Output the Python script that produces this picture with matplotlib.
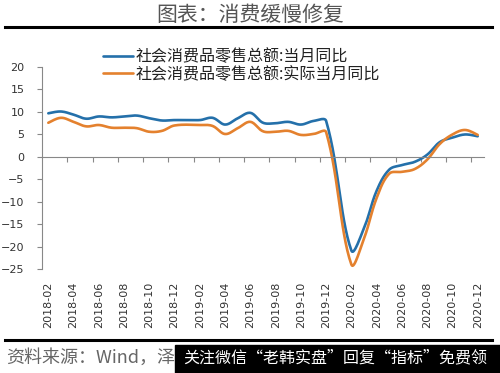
import matplotlib

matplotlib.use("Agg")
import matplotlib.pyplot as plt
import numpy as np
import pandas as pd
from matplotlib.lines import Line2D
from matplotlib.patches import Rectangle
from matplotlib.transforms import Bbox, TransformedBbox

plt.rcParams["font.family"] = ["Noto Sans CJK SC", "DejaVu Sans"]

months = pd.date_range("2018-02-01", "2020-12-01", freq="MS").strftime("%Y-%m").tolist()
nan = np.nan
# 社会消费品零售总额: 当月同比 (%), 1 月无单月数据
nominal = [9.7, 10.1, 9.4, 8.5, 9.0, 8.8, 9.0, 9.2, 8.6, 8.1, 8.2, nan,
           8.2, 8.7, 7.2, 8.6, 9.8, 7.6, 7.5, 7.8, 7.2, 8.0, 8.0, nan,
           -20.8, -15.8, -7.5, -2.8, -1.8, -1.1, 0.5, 3.3, 4.3, 5.0, 4.6]
# 社会消费品零售总额: 实际当月同比 (%)
real = [7.6, 8.7, 7.8, 6.8, 7.1, 6.5, 6.5, 6.4, 5.6, 5.8, 7.0, nan,
        7.1, 6.9, 5.1, 6.4, 7.8, 5.7, 5.6, 5.8, 4.9, 5.1, 5.5, nan,
        -23.9, -18.1, -9.1, -3.7, -3.3, -2.7, -0.6, 2.9, 5.0, 6.0, 4.9]
labels = ["社会消费品零售总额:当月同比", "社会消费品零售总额:实际当月同比"]
yticks = [20, 15, 10, 5, 0, -5, -10, -15, -20, -25]

XS, YS = 12.65, 4.5  # 大致的像素比例, 用于平滑时的距离


def smooth(y, n=16, k=0.36):
    """Excel 风格的平滑折线, 切线按相邻段长度分配; 缺失月份直接连线。"""
    y = np.asarray(y, dtype=float)
    x = np.arange(len(y), dtype=float)
    ok = ~np.isnan(y)
    p = np.column_stack([x[ok] * XS, y[ok] * YS])
    p = np.vstack([p[0], p, p[-1]])
    t = np.linspace(0, 1, n)[:, None]
    segs = []
    for i in range(1, len(p) - 2):
        p0, p1, p2, p3 = p[i - 1], p[i], p[i + 1], p[i + 2]
        d0 = np.hypot(*(p1 - p0))
        d1 = np.hypot(*(p2 - p1))
        d2 = np.hypot(*(p3 - p2))
        c1 = p1 + (p2 - p0) * (d1 / (d0 + d1) * k if d0 > 0 else 1 / 6)
        c2 = p2 - (p3 - p1) * (d1 / (d1 + d2) * k if d2 > 0 else 1 / 6)
        seg = ((1 - t) ** 3) * p1 + 3 * ((1 - t) ** 2) * t * c1 + 3 * (1 - t) * t ** 2 * c2 + t ** 3 * p2
        segs.append(seg if i == 1 else seg[1:])
    c = np.vstack(segs)
    return c[:, 0] / XS, c[:, 1] / YS


fig = plt.figure(figsize=(5.0, 3.73), dpi=100)
ax = fig.add_axes([0.084, 0.2775, 0.884, 0.543])

for vals, col, lab in [(nominal, "#2470AA", labels[0]), (real, "#E4812E", labels[1])]:
    sx, sy = smooth(vals)
    ax.plot(sx, sy, color=col, lw=1.9, label=lab, solid_capstyle="round")

n = len(months)
ax.set_xlim(-0.5, n - 0.5)
ax.set_ylim(-25, 20)
ax.set_yticks(yticks)
ax.tick_params(axis="y", direction="out", length=3.5, width=0.8, color="#888888",
               labelsize=8, labelcolor="#333333", pad=9)
for lab in ax.get_yticklabels():
    lab.set_family("DejaVu Sans")

for s in ["top", "right"]:
    ax.spines[s].set_visible(False)
ax.spines["left"].set_color("#888888")
ax.spines["bottom"].set_color("#888888")
ax.spines["bottom"].set_position(("data", 0))
ax.set_xticks(np.arange(1.5, n - 1, 2))
ax.set_xticklabels([])
ax.tick_params(axis="x", direction="out", length=3.5, width=0.8, color="#888888")

sec = ax.secondary_xaxis("bottom")
sec.spines["bottom"].set_visible(False)
sec.set_xticks(np.arange(0, n, 2))
sec.set_xticklabels(months[::2], rotation=90, family="DejaVu Sans", fontsize=8, color="#333333")
sec.tick_params(axis="x", length=0, pad=9)

ax.legend(loc="upper left", bbox_to_anchor=(0.205, 0.87), bbox_transform=fig.transFigure,
          frameon=False, fontsize=11.5, handlelength=1.9, handletextpad=0.2,
          labelspacing=0.02, borderpad=0, borderaxespad=0)
for t in ax.get_legend().get_texts():
    t.set_color("#222222")

fig.text(0.5, 1 - 15 / 373, "图表：消费缓慢修复", ha="center", va="center", fontsize=15,
         color="#555555")
fig.add_artist(Line2D([0.01, 0.984], [1 - 27 / 373] * 2, color="black", lw=2.2,
                      transform=fig.transFigure))
fig.add_artist(Line2D([0.01, 0.984], [1 - 340 / 373] * 2, color="black", lw=2.2,
                      transform=fig.transFigure))
src = fig.text(0.012, 1 - 358 / 373, "资料来源：Wind，泽平宏观", ha="left", va="center",
               fontsize=13, color="#666666", style="italic", zorder=1)
src.set_clip_box(TransformedBbox(Bbox([[0, 0], [175 / 500, 1]]), fig.transFigure))
src.set_clip_on(True)
fig.add_artist(Rectangle((175 / 500, 0), 325 / 500, 28 / 373, color="black",
                         transform=fig.transFigure, zorder=2))
fig.text(183 / 500, 1 - 358 / 373, "关注微信“老韩实盘”回复“指标”免费领", ha="left",
         va="center", fontsize=11.5, color="white", zorder=3)

fig.savefig("out.png", dpi=100)
